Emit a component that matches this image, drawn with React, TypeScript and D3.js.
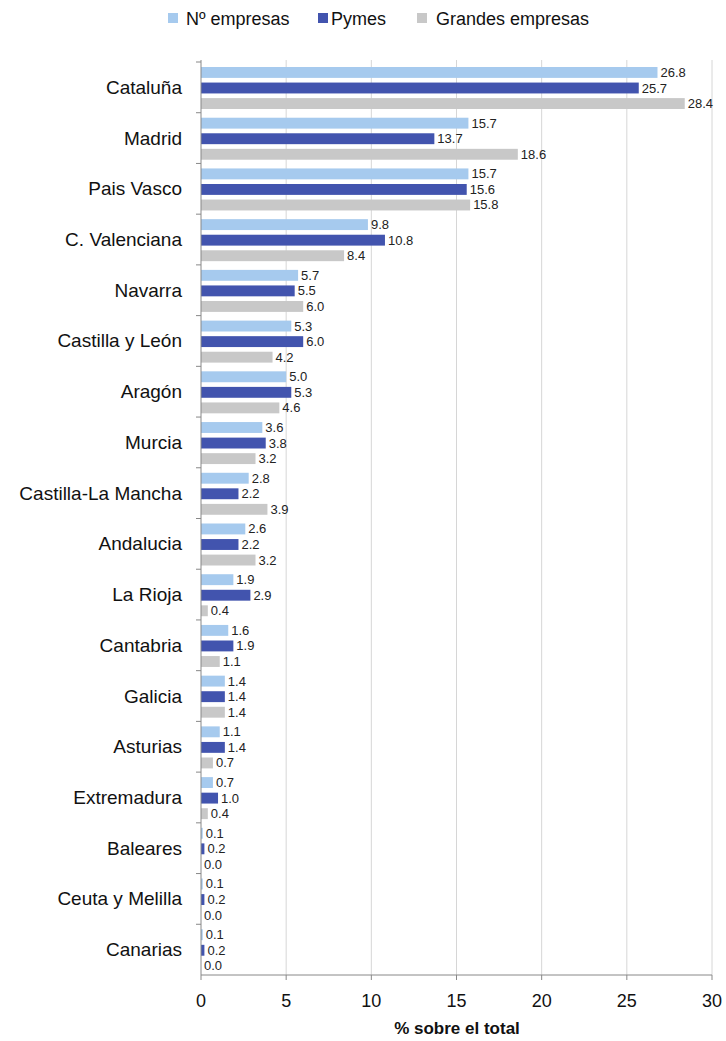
import React from "react";
import * as d3 from "d3";

const regions = [
  "Cataluña", "Madrid", "Pais Vasco", "C. Valenciana", "Navarra", "Castilla y León",
  "Aragón", "Murcia", "Castilla-La Mancha", "Andalucia", "La Rioja", "Cantabria",
  "Galicia", "Asturias", "Extremadura", "Baleares", "Ceuta y Melilla", "Canarias",
];
const nEmpresas = [26.8, 15.7, 15.7, 9.8, 5.7, 5.3, 5.0, 3.6, 2.8, 2.6, 1.9, 1.6, 1.4, 1.1, 0.7, 0.1, 0.1, 0.1];
const pymes = [25.7, 13.7, 15.6, 10.8, 5.5, 6.0, 5.3, 3.8, 2.2, 2.2, 2.9, 1.9, 1.4, 1.4, 1.0, 0.2, 0.2, 0.2];
const grandes = [28.4, 18.6, 15.8, 8.4, 6.0, 4.2, 4.6, 3.2, 3.9, 3.2, 0.4, 1.1, 1.4, 0.7, 0.4, 0.0, 0.0, 0.0];
const seriesNames = ["Nº empresas", "Pymes", "Grandes empresas"];
const seriesColors = ["#a6caee", "#4254ae", "#c8c8c8"];
const xTicks = [0, 5, 10, 15, 20, 25, 30];
const axisTitle = "% sobre el total";

const W = 726;
const H = 1041;
const FONT = "'Liberation Sans', Arial, sans-serif";

export default function App() {
  const x = d3.scaleLinear().domain([0, 30]).range([201, 712]);
  const y = d3.scaleBand<string>().domain(regions).range([62, 975]).padding(0);
  const inner = d3.scaleBand<string>().domain(seriesNames).range([5, 47]).paddingInner(0.3).paddingOuter(0);
  const allSeries = [nEmpresas, pymes, grandes];
  const bottom = 975;
  const top = 60;

  const legendItems = [
    { sq: 168, tx: 186 },
    { sq: 318, tx: 331 },
    { sq: 417, tx: 436 },
  ];

  return (
    <svg width={W} height={H} style={{ position: "absolute", left: 0, top: 0, background: "#fff" }} fontFamily={FONT}>
      {/* gridlines */}
      {xTicks.slice(1).map((t) => (
        <line key={"g" + t} x1={x(t)} x2={x(t)} y1={top} y2={bottom} stroke="#d6d6d6" strokeWidth={1} />
      ))}
      {/* bars */}
      {regions.map((r, i) => (
        <g key={r} transform={`translate(0,${y(r)})`}>
          {allSeries.map((s, k) => {
            const yy = inner(seriesNames[k])!;
            const bh = inner.bandwidth();
            return (
              <g key={k}>
                <rect x={x(0)} y={yy} width={Math.max(0, x(s[i]) - x(0))} height={bh} fill={seriesColors[k]} />
                <text x={x(s[i]) + 3} y={yy + bh / 2 + 4.5} fontSize={13} fill="#222">
                  {s[i].toFixed(1)}
                </text>
              </g>
            );
          })}
        </g>
      ))}
      {/* y axis */}
      <line x1={x(0)} x2={x(0)} y1={top} y2={bottom} stroke="#888" strokeWidth={1} />
      {regions.map((r) => (
        <line key={"yt" + r} x1={x(0) - 5} x2={x(0)} y1={y(r)!} y2={y(r)!} stroke="#888" />
      ))}
      {regions.map((r) => (
        <text key={"yl" + r} x={182} y={y(r)! + y.bandwidth() / 2 + 6.5} fontSize={19} textAnchor="end" fill="#111">
          {r}
        </text>
      ))}
      {/* x axis */}
      <line x1={x(0)} x2={x(30)} y1={bottom} y2={bottom} stroke="#888" strokeWidth={1} />
      {xTicks.map((t) => (
        <g key={"xt" + t}>
          <line x1={x(t)} x2={x(t)} y1={bottom} y2={bottom + 5} stroke="#888" />
          <text x={x(t)} y={1007} fontSize={18} textAnchor="middle" fill="#111">
            {t}
          </text>
        </g>
      ))}
      <text x={457} y={1034} fontSize={17} fontWeight="bold" textAnchor="middle" fill="#111">
        {axisTitle}
      </text>
      {/* legend */}
      {seriesNames.map((n, k) => (
        <g key={"lg" + n}>
          <rect x={legendItems[k].sq} y={13} width={10} height={10} fill={seriesColors[k]} />
          <text x={legendItems[k].tx} y={25} fontSize={18} fill="#111">
            {n}
          </text>
        </g>
      ))}
    </svg>
  );
}
